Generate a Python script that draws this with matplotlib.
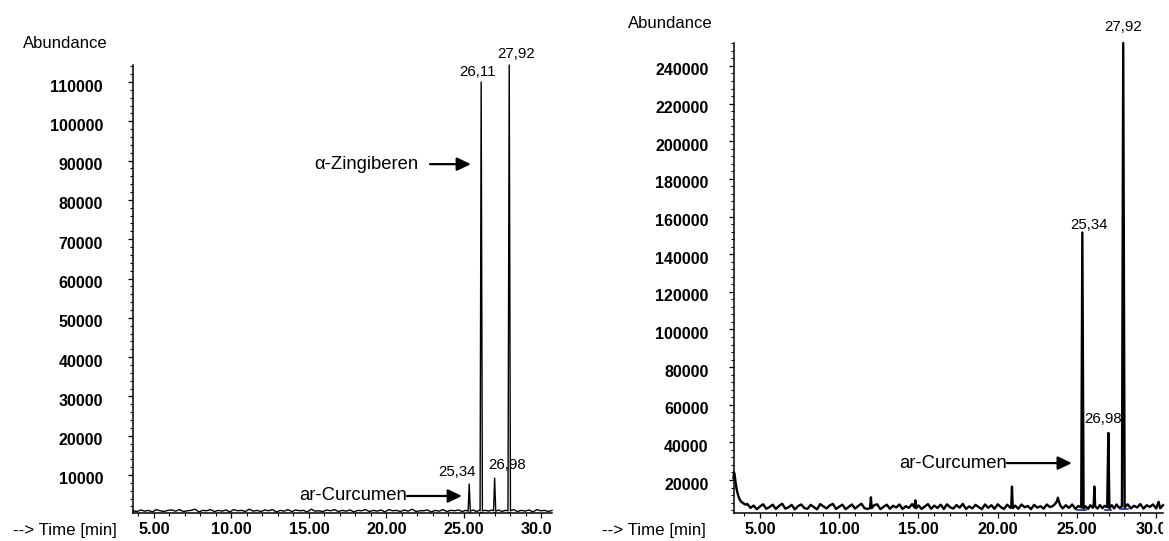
import matplotlib.pyplot as plt
from matplotlib.transforms import Bbox, TransformedBbox, ScaledTranslation

plt.rcParams['font.family'] = ['Liberation Sans', 'DejaVu Sans']

# Chromatogramm A (links): Retentionszeit [min] / Abundanz
time_a = [3.65, 3.9, 4.15, 4.4, 4.65, 4.9, 5.15, 5.4, 5.65, 5.9,
          6.15, 6.4, 6.65, 6.9, 7.15, 7.4, 7.65, 7.9, 8.15, 8.4,
          8.65, 8.9, 9.15, 9.4, 9.65, 9.9, 10.15, 10.4, 10.65, 10.9,
          11.15, 11.4, 11.65, 11.9, 12.15, 12.4, 12.65, 12.9, 13.15, 13.4,
          13.65, 13.9, 14.15, 14.4, 14.65, 14.9, 15.15, 15.4, 15.65, 15.9,
          16.15, 16.4, 16.65, 16.9, 17.15, 17.4, 17.65, 17.9, 18.15, 18.4,
          18.65, 18.9, 19.15, 19.4, 19.65, 19.9, 20.15, 20.4, 20.65, 20.9,
          21.15, 21.4, 21.65, 21.9, 22.15, 22.4, 22.65, 22.9, 23.15, 23.4,
          23.65, 23.9, 24.15, 24.4, 24.65, 24.9, 25.1, 25.27, 25.34, 25.41,
          25.6, 25.8, 25.98, 26.04, 26.11, 26.19, 26.4, 26.6, 26.8, 26.91,
          26.98, 27.05, 27.25, 27.45, 27.65, 27.84, 27.92, 28.0, 28.2, 28.45,
          28.7, 28.95, 29.2, 29.45, 29.7, 29.95, 30.2, 30.45, 30.68]
abund_a = [900, 700, 1100, 800, 1000, 600, 1200, 900, 700, 1000,
           1100, 800, 1200, 700, 900, 1000, 1300, 600, 1000, 900,
           1200, 700, 1000, 800, 1100, 600, 1200, 900, 1000, 700,
           1300, 800, 1000, 700, 1100, 900, 1200, 600, 1000, 800,
           1200, 700, 1100, 900, 1000, 600, 1300, 800, 900, 700,
           1100, 900, 1200, 700, 1000, 800, 1100, 600, 1000, 900,
           1200, 700, 1000, 800, 1100, 600, 1200, 900, 1000, 700,
           1100, 800, 1300, 700, 900, 900, 1100, 600, 1000, 800,
           1200, 700, 1000, 900, 1100, 700, 1000, 800, 7700, 800,
           1100, 700, 1000, 900, 110000, 900, 1000, 800, 1100, 900,
           9200, 800, 1100, 700, 1000, 900, 114300, 900, 1200, 700,
           1000, 800, 1100, 600, 1200, 900, 1000, 700, 1000]

# Chromatogramm B (rechts)
time_b = [3.33, 3.36, 3.40, 3.45, 3.52, 3.60, 3.70, 3.80, 3.95, 4.10,
          4.2, 4.4, 4.6, 4.8, 5.0, 5.2, 5.4, 5.6, 5.8, 6.0,
          6.2, 6.4, 6.6, 6.8, 7.0, 7.2, 7.4, 7.6, 7.8, 8.0,
          8.2, 8.4, 8.6, 8.8, 9.0, 9.2, 9.4, 9.6, 9.8, 10.0,
          10.2, 10.4, 10.6, 10.8, 11.0, 11.2, 11.4, 11.6, 11.8, 11.95,
          12.0, 12.05, 12.2, 12.4, 12.6, 12.8, 13.0, 13.2, 13.4, 13.6,
          13.8, 14.0, 14.2, 14.4, 14.6, 14.75, 14.8, 14.85, 15.0, 15.2,
          15.4, 15.6, 15.8, 16.0, 16.2, 16.4, 16.6, 16.8, 17.0, 17.2,
          17.4, 17.6, 17.8, 18.0, 18.2, 18.4, 18.6, 18.8, 19.0, 19.2,
          19.4, 19.6, 19.8, 20.0, 20.2, 20.4, 20.6, 20.8, 20.86, 20.9,
          20.95, 21.1, 21.3, 21.5, 21.7, 21.9, 22.1, 22.3, 22.5, 22.7,
          22.9, 23.1, 23.3, 23.5, 23.65, 23.75, 23.8, 23.85, 23.95, 24.1,
          24.3, 24.5, 24.7, 24.9, 25.1, 25.27, 25.34, 25.42, 25.55, 25.7,
          25.85, 26.0, 26.06, 26.1, 26.15, 26.3, 26.45, 26.6, 26.75, 26.91,
          26.98, 27.05, 27.2, 27.35, 27.5, 27.65, 27.84, 27.92, 28.01, 28.2,
          28.4, 28.6, 28.8, 29.0, 29.2, 29.4, 29.6, 29.8, 30.0, 30.15,
          30.25, 30.43]
abund_b = [21000, 24000, 23000, 19500, 15500, 12500, 10000, 8600, 7600, 6900,
           7300, 5200, 6400, 4500, 5900, 7100, 4700, 5600, 6900, 4600,
           6200, 7400, 4800, 5500, 6800, 4400, 6100, 7000, 5100, 4700,
           6800, 5600, 4400, 7200, 6000, 4900, 6500, 7300, 4600, 5800,
           6900, 4500, 5700, 7000, 4800, 6200, 7400, 5000, 4600, 5200,
           10800, 5000, 6600, 7100, 4500, 5800, 6900, 4700, 6300, 5400,
           7000, 4600, 6100, 5200, 7200, 5400, 9200, 5000, 6500, 4600,
           5900, 7200, 4700, 6400, 5100, 6900, 4600, 7100, 5500, 4800,
           6700, 5300, 7300, 4600, 6000, 4900, 6800, 5600, 4500, 7000,
           5200, 6600, 4700, 7100, 5600, 4600, 6900, 5200, 6500, 16500,
           5000, 6400, 4700, 7000, 5500, 6200, 4500, 6800, 5300, 6100,
           4800, 7000, 5600, 6300, 7600, 9000, 10600, 8800, 6500, 4900,
           6600, 5200, 7000, 4700, 6200, 5500, 151500, 4800, 6000, 4700,
           6600, 5200, 7000, 16500, 6000, 4800, 6700, 5000, 6300, 5600,
           45000, 5000, 6600, 4900, 7000, 5300, 6000, 252200, 5400, 7100,
           4900, 6300, 5400, 7200, 4800, 6600, 5700, 7000, 4900, 8400,
           5000, 6600]

# integrierte Basislinien (Start, Ende, Abundanz)
base_a = [(25.30, 25.40, 700), (26.05, 26.19, 700), (26.93, 27.03, 700), (27.86, 28.0, 700)]
base_b = [(25.0, 25.55, 4300), (26.75, 27.15, 4300), (27.7, 28.25, 4500)]

# Peakbeschriftungen: Zeit, Höhe, Versatz in Pixel
peaks_a = [(25.34, 7700, -12, 12), (26.11, 110000, -4, 10),
           (26.98, 9200, 12, 13), (27.92, 114300, 7, 11)]
peaks_b = [(25.34, 151500, 7, 8), (26.98, 45000, -5, 14), (27.92, 252200, 0, 16)]

yticks_a = list(range(10000, 110001, 10000))
yticks_b = list(range(20000, 240001, 20000))
xticks = [5, 10, 15, 20, 25, 30]

W, H = 1169, 541
fig = plt.figure(figsize=(W / 100, H / 100), dpi=100)


def rect(x0, x1, ytop, ybot):
    return [x0 / W, (H - ybot) / H, (x1 - x0) / W, (ybot - ytop) / H]


def fig_text(x, y, s, **kw):
    fig.text(x / W, 1 - y / H, s, **kw)


def setup(ax, xlim, ylim, yticks, yminor, ygap):
    ax.set_xlim(*xlim)
    ax.set_ylim(*ylim)
    for side in ('top', 'right'):
        ax.spines[side].set_visible(False)
    for side in ('left', 'bottom'):
        ax.spines[side].set_linewidth(1.1)
    ax.set_xticks(xticks)
    ax.set_xticks([t for t in range(4, 31) if t % 5], minor=True)
    ax.set_yticks(yticks)
    ax.set_yticks([v for v in range(int(ylim[0]) // yminor * yminor + yminor, int(ylim[1]), yminor)
                   if v not in yticks], minor=True)
    ax.set_xticklabels([])
    ax.set_yticklabels([])
    ax.tick_params(which='major', length=3.6, width=0.9, direction='out')
    ax.tick_params(which='minor', length=2.0, width=0.8, direction='out')

    # Achsenbeschriftung der y-Achse leicht unter dem Tick
    ytr = ax.get_yaxis_transform() + ScaledTranslation(-ygap / 100, -5 / 100, fig.dpi_scale_trans)
    for v in yticks:
        ax.text(0, v, str(v), transform=ytr, ha='right', va='center',
                fontsize=11.5, fontweight='bold', clip_on=False)

    # x-Beschriftung, am rechten Achsenende abgeschnitten
    pos = ax.get_position()
    clip = TransformedBbox(Bbox([[0, 0], [pos.x1, 1]]), fig.transFigure)
    xtr = ax.get_xaxis_transform() + ScaledTranslation(0, -17 / 100, fig.dpi_scale_trans)
    for t in xticks:
        txt = ax.text(t, 0, f'{t:.2f}', transform=xtr, ha='center', va='center',
                      fontsize=11.7, fontweight='bold')
        txt.set_clip_on(True)
        txt.set_clip_box(clip)


def arrow(ax, tail, tip, y):
    ax.annotate('', xy=(tip, y), xytext=(tail, y),
                arrowprops=dict(arrowstyle='-|>,head_length=0.42,head_width=0.2',
                                lw=1.6, color='black', mutation_scale=20,
                                shrinkA=0, shrinkB=0))


# linkes Chromatogramm
ax1 = fig.add_axes(rect(133, 552, 65, 513))
setup(ax1, (3.65, 30.68), (330, 114330), yticks_a, 2000, 30)
ax1.plot(time_a, abund_a, color='black', lw=1.0, clip_on=False)
for t0, t1, v in base_a:
    ax1.plot([t0, t1], [v, v], color='#1a2aa0', lw=1.0)
for t, h, dx, dy in peaks_a:
    ax1.annotate(f'{t:.2f}'.replace('.', ','), xy=(t, h), xytext=(dx, dy),
                 textcoords='offset pixels', ha='center', va='center', fontsize=10.8)
ax1.text(22.03, 89100, 'α-Zingiberen', ha='right', va='center', fontsize=13.3)
arrow(ax1, 22.81, 25.45, 89100)
ax1.text(21.32, 4660, 'ar-Curcumen', ha='right', va='center', fontsize=13.3)
arrow(ax1, 21.32, 24.87, 4660)

# rechtes Chromatogramm
ax2 = fig.add_axes(rect(733.5, 1163, 43, 513))
setup(ax2, (3.33, 30.43), (2470, 252200), yticks_b, 4000, 25)
ax2.plot(time_b, abund_b, color='black', lw=1.7, clip_on=False)
for t0, t1, v in base_b:
    ax2.plot([t0, t1], [v, v], color='#1a2aa0', lw=1.2)
for t, h, dx, dy in peaks_b:
    ax2.annotate(f'{t:.2f}'.replace('.', ','), xy=(t, h), xytext=(dx, dy),
                 textcoords='offset pixels', ha='center', va='center', fontsize=10.8)
ax2.text(20.58, 29000, 'ar-Curcumen', ha='right', va='center', fontsize=13.3)
arrow(ax2, 20.58, 24.68, 29000)

# Achsentitel
fig_text(65.5, 43, 'Abundance', ha='center', va='center', fontsize=12)
fig_text(670, 23, 'Abundance', ha='center', va='center', fontsize=12)
fig_text(13, 530, '--> Time [min]', ha='left', va='center', fontsize=12.2)
fig_text(602, 530, '--> Time [min]', ha='left', va='center', fontsize=12.2)

fig.savefig('out.png', dpi=100)
